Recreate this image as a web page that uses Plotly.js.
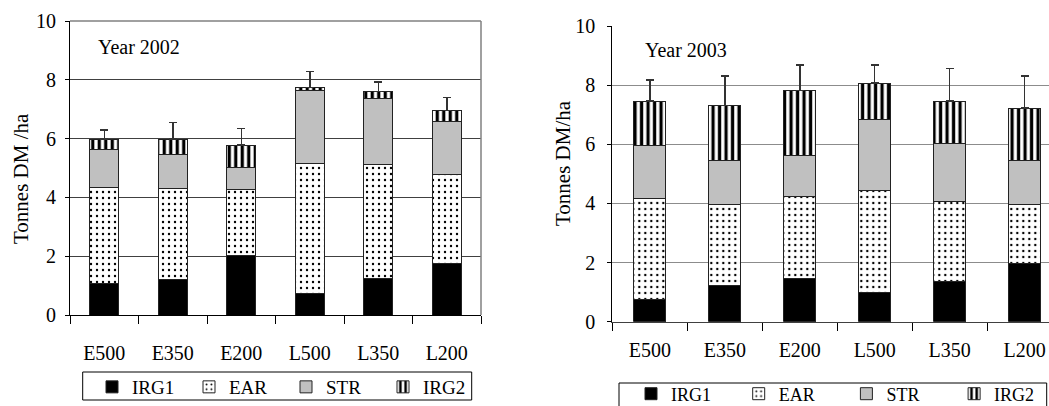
<!DOCTYPE html>
<html><head><meta charset="utf-8">
<script src="https://cdn.plot.ly/plotly-3.0.1.min.js"></script>
<style>html,body{margin:0;padding:0;overflow:hidden;background:#fff}#chart{width:1049px;height:406px}</style>
</head><body><div id="chart"></div>
<script>
const categories = ['E500','E350','E200','L500','L350','L200'];
const seriesNames = ['IRG1','EAR','STR','IRG2'];
const yTicks = [0,2,4,6,8,10];

const irg1_2002 = [1.06,1.20,2.03,0.72,1.25,1.74];
const ear_2002  = [3.29,3.11,2.23,4.42,3.86,3.05];
const str_2002  = [1.29,1.14,0.77,2.49,2.25,1.79];
const irg2_2002 = [0.34,0.53,0.75,0.10,0.24,0.38];
const err_2002  = [0.32,0.57,0.57,0.55,0.32,0.44];

const irg1_2003 = [0.76,1.21,1.45,0.98,1.36,1.96];
const ear_2003  = [3.39,2.74,2.77,3.47,2.70,1.99];
const str_2003  = [1.80,1.50,1.39,2.39,1.96,1.51];
const irg2_2003 = [1.51,1.86,2.21,1.23,1.44,1.76];
const err_2003  = [0.71,1.00,0.86,0.61,1.11,1.09];

const W = 1049, H = 406;
const px = v => v / W;
const py = v => 1 - v / H;
const FONT = 'Liberation Serif, Times New Roman, serif';

function markerFor(name){
  const line = {color:'#222', width:1};
  if(name==='IRG1') return {color:'#000', line};
  if(name==='EAR') return {color:'#fff', line, pattern:{shape:'.', fgcolor:'#000', bgcolor:'#fff', size:6, solidity:0.12}};
  if(name==='STR') return {color:'#c0c0c0', line};
  return {color:'#fff', line, pattern:{shape:'|', fgcolor:'#000', bgcolor:'#fff', size:6.5, solidity:0.5}};
}

function makeTraces(vals, err, xa, ya, leg){
  return vals.map((v,i)=>{
    const t = {type:'bar', name:seriesNames[i], x:categories, y:v, xaxis:xa, yaxis:ya,
      legend:leg, marker:markerFor(seriesNames[i]), hoverinfo:'skip'};
    if(seriesNames[i]==='IRG2'){
      t.error_y = {type:'data', array:err, symmetric:false, arrayminus:err.map(()=>0),
        color:'#333', thickness:1.5, width:4};
    }
    return t;
  });
}

const traces = [
  ...makeTraces([irg1_2002, ear_2002, str_2002, irg2_2002], err_2002, 'x', 'y', 'legend'),
  ...makeTraces([irg1_2003, ear_2003, str_2003, irg2_2003], err_2003, 'x2', 'y2', 'legend2')
];

const xCommon = {type:'category', ticks:'outside', tickson:'boundaries', ticklen:8, tickcolor:'#000',
  showline:true, linewidth:1, showgrid:false, zeroline:false, fixedrange:true,
  tickfont:{family:FONT, size:20, color:'#000'}};
const yCommon = {range:[0,10], tickvals:yTicks, ticks:'outside', ticklen:4, tickcolor:'#000',
  showline:true, linecolor:'#000', linewidth:1, zeroline:false, fixedrange:true,
  tickfont:{family:FONT, size:20, color:'#000'}};

const layout = {
  width:W, height:H, margin:{l:0,r:0,t:0,b:0,autoexpand:false},
  paper_bgcolor:'#fff', plot_bgcolor:'rgba(0,0,0,0)',
  barmode:'stack', bargap:0.57,
  font:{family:FONT, size:19, color:'#000'},
  xaxis:Object.assign({}, xCommon, {domain:[px(70), px(481)], anchor:'y', range:[-0.5,5.5], linecolor:'#000', ticklabelstandoff:20}),
  yaxis:Object.assign({}, yCommon, {domain:[py(315), py(21)], anchor:'x', gridcolor:'#404040', ticklabelstandoff:5}),
  xaxis2:Object.assign({}, xCommon, {domain:[px(612.3), 1], anchor:'y2', range:[-0.5,5.324], linecolor:'#404040', ticklabelstandoff:10}),
  yaxis2:Object.assign({}, yCommon, {domain:[py(321.7), py(26)], anchor:'x2', gridcolor:'#8c8c8c', ticklabelstandoff:8}),
  legend:{orientation:'h', x:px(92), y:py(387), xanchor:'left', yanchor:'middle', traceorder:'normal',
    entrywidth:52, entrywidthmode:'pixels', borderwidth:0, bgcolor:'rgba(0,0,0,0)', font:{family:FONT,size:19,color:'#000'}},
  legend2:{orientation:'h', x:px(631), y:py(394), xanchor:'left', yanchor:'middle', traceorder:'normal',
    entrywidth:62.7, entrywidthmode:'pixels', borderwidth:0, bgcolor:'rgba(0,0,0,0)', font:{family:FONT,size:18,color:'#000'}},
  shapes:[
    {type:'line', xref:'paper', yref:'paper', x0:px(70), x1:px(481), y0:py(21), y1:py(21), line:{color:'#808080', width:1.5}, layer:'above'},
    {type:'line', xref:'paper', yref:'paper', x0:px(481), x1:px(481), y0:py(315), y1:py(21), line:{color:'#808080', width:1.5}, layer:'above'},
    {type:'rect', xref:'paper', yref:'paper', x0:px(82.7), x1:px(471.7), y0:py(400), y1:py(372), line:{color:'#000', width:1}, layer:'above'},
    {type:'rect', xref:'paper', yref:'paper', x0:px(619), x1:px(1046.7), y0:py(412), y1:py(383), line:{color:'#000', width:1}, layer:'above'}
  ],
  annotations:[
    {text:'Year 2002', xref:'paper', yref:'paper', x:px(96), y:py(47), xanchor:'left', yanchor:'middle', showarrow:false, font:{family:FONT,size:20,color:'#000'}},
    {text:'Year 2003', xref:'paper', yref:'paper', x:px(643), y:py(50), xanchor:'left', yanchor:'middle', showarrow:false, font:{family:FONT,size:20,color:'#000'}},
    {text:'Tonnes DM /ha', textangle:-90, xref:'paper', yref:'paper', x:px(21), y:py(179), xanchor:'center', yanchor:'middle', showarrow:false, font:{family:FONT,size:21,color:'#000'}},
    {text:'Tonnes DM/ha', textangle:-90, xref:'paper', yref:'paper', x:px(563), y:py(163), xanchor:'center', yanchor:'middle', showarrow:false, font:{family:FONT,size:21,color:'#000'}}
  ]
};

Plotly.newPlot('chart', traces, layout, {staticPlot:true, displayModeBar:false});
</script>
</body></html>
